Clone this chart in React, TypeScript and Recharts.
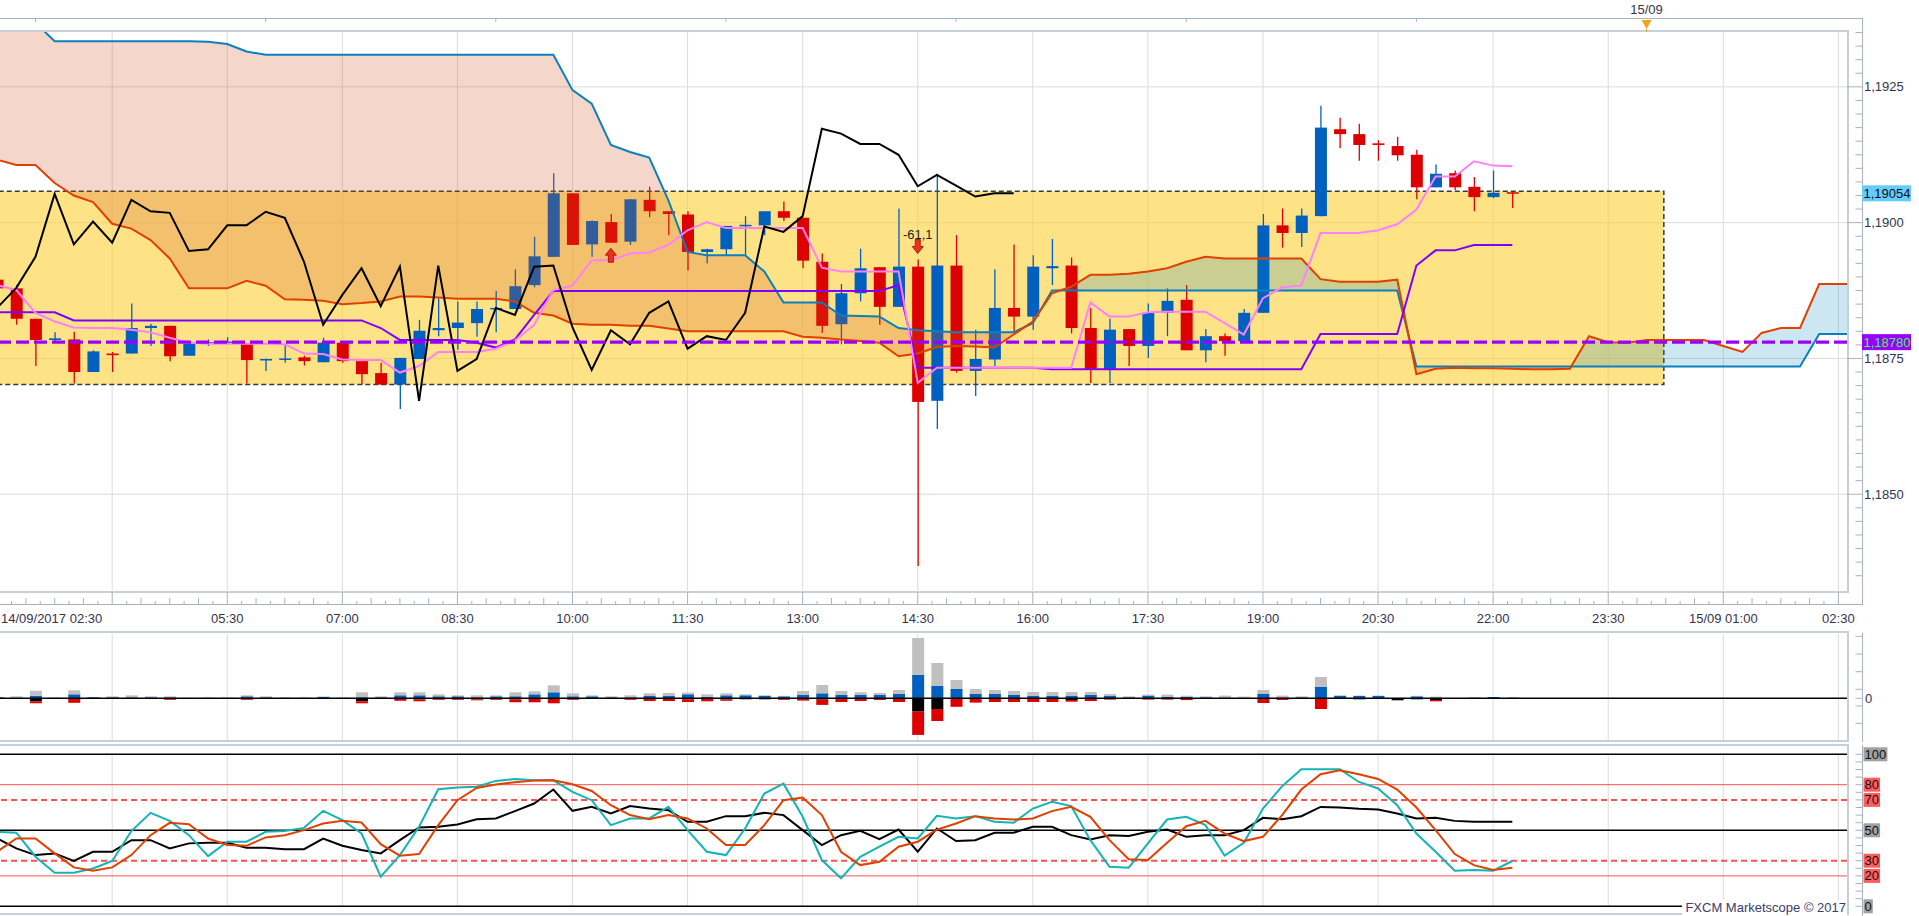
import React from "react";
import {
  ComposedChart,
  Bar,
  Line,
  Area,
  XAxis,
  YAxis,
  ReferenceLine,
  ReferenceArea,
  ReferenceDot,
} from "recharts";

// EUR/USD 15-minute bars, index 0 = 14/09/2017 02:30
const openPrices = [
  1.18895, 1.18879, 1.18823, 1.18784, 1.18785, 1.18725, 1.18759, 1.18759, 1.18806, 1.1881,
  1.18755, 1.18779, 1.1878, 1.18777, 1.18747, 1.18749, 1.18752, 1.18743, 1.18779, 1.18745,
  1.18723, 1.18702, 1.18749, 1.18802, 1.18806, 1.18815, 1.18841, 1.18841, 1.18885, 1.18937,
  1.19054, 1.1896, 1.19001, 1.18965, 1.19042, 1.19021, 1.19015, 1.18946, 1.18951, 1.18994,
  1.18995, 1.19021, 1.19009, 1.18928, 1.18813, 1.1887, 1.18918, 1.18845, 1.18919, 1.18672,
  1.18921, 1.18727, 1.18748, 1.18843, 1.18827, 1.18916, 1.18921, 1.18806, 1.18729, 1.18804,
  1.18773, 1.18834, 1.18858, 1.18765, 1.18791, 1.18782, 1.18834, 1.18995, 1.18981, 1.19012,
  1.19172, 1.19163, 1.19146, 1.19141, 1.19125, 1.19065, 1.19091, 1.19066, 1.19047, 1.19056,
];
const highPrices = [
  1.18905, 1.18885, 1.18823, 1.18798, 1.18799, 1.18765, 1.18762, 1.18851, 1.18814, 1.1881,
  1.18782, 1.18785, 1.18789, 1.18777, 1.1875, 1.18776, 1.18755, 1.18788, 1.18782, 1.18745,
  1.18742, 1.18751, 1.18821, 1.18861, 1.18855, 1.18855, 1.18874, 1.18914, 1.18974, 1.19091,
  1.19054, 1.19004, 1.19016, 1.19043, 1.19066, 1.19021, 1.19021, 1.18952, 1.18994, 1.19012,
  1.19021, 1.19039, 1.19009, 1.18943, 1.18887, 1.18952, 1.18918, 1.19026, 1.18932, 1.1909,
  1.18977, 1.18803, 1.18914, 1.1896, 1.1894, 1.1897, 1.18936, 1.18843, 1.18823, 1.18804,
  1.18851, 1.18879, 1.18885, 1.18804, 1.18796, 1.18841, 1.19016, 1.19026, 1.19026, 1.19215,
  1.19193, 1.19182, 1.19152, 1.19158, 1.19134, 1.19107, 1.19096, 1.19084, 1.19096, 1.19056,
];
const lowPrices = [
  1.1887, 1.18812, 1.18736, 1.18779, 1.18704, 1.18725, 1.18725, 1.18759, 1.18773, 1.18745,
  1.18755, 1.18773, 1.18776, 1.18704, 1.18727, 1.18742, 1.18737, 1.18743, 1.18742, 1.18702,
  1.18702, 1.18657, 1.18749, 1.18791, 1.18766, 1.1879, 1.18798, 1.18841, 1.18881, 1.18937,
  1.18959, 1.18937, 1.18963, 1.18959, 1.1901, 1.18977, 1.18912, 1.18925, 1.1894, 1.1894,
  1.18977, 1.19003, 1.18916, 1.18797, 1.18776, 1.18855, 1.18812, 1.18845, 1.18368, 1.1862,
  1.18724, 1.18681, 1.18736, 1.188, 1.18803, 1.18885, 1.18796, 1.18705, 1.18705, 1.18736,
  1.18751, 1.18791, 1.18765, 1.18743, 1.18755, 1.18782, 1.18834, 1.18954, 1.18955, 1.19012,
  1.19137, 1.19114, 1.19114, 1.19114, 1.19043, 1.19065, 1.1906, 1.19021, 1.19045, 1.19027,
];
const closePrices = [
  1.18879, 1.18823, 1.18784, 1.18787, 1.18725, 1.18763, 1.18756, 1.18806, 1.1881, 1.18754,
  1.18777, 1.1878, 1.18781, 1.18747, 1.18749, 1.1875, 1.18745, 1.18779, 1.18745, 1.18721,
  1.18702, 1.18751, 1.18801, 1.18806, 1.18816, 1.18841, 1.18843, 1.18883, 1.18938, 1.19054,
  1.18959, 1.19003, 1.18963, 1.19043, 1.19021, 1.19016, 1.18946, 1.18951, 1.18994, 1.18996,
  1.19021, 1.19009, 1.1893, 1.1881, 1.1887, 1.18916, 1.18845, 1.18919, 1.1867, 1.18921,
  1.18727, 1.18749, 1.18843, 1.18827, 1.18919, 1.1892, 1.18806, 1.18729, 1.18803, 1.18773,
  1.18834, 1.18856, 1.18765, 1.18791, 1.18782, 1.18834, 1.18995, 1.18981, 1.19013, 1.19175,
  1.19163, 1.19143, 1.19143, 1.19124, 1.19065, 1.1909, 1.19065, 1.19047, 1.19055, 1.19054,
];

// Ichimoku (spans already shifted 26 bars ahead)
const senkouA = [
  1.19116, 1.19106, 1.19106, 1.19073, 1.1905, 1.19038, 1.18998, 1.18989, 1.18968, 1.18934,
  1.18879, 1.18879, 1.18879, 1.18893, 1.18884, 1.18859, 1.18858, 1.18856, 1.1885, 1.18852,
  1.18855, 1.18864, 1.18864, 1.18862, 1.1886, 1.1886, 1.1886, 1.18855, 1.18834, 1.18829,
  1.18814, 1.18812, 1.18812, 1.1881, 1.1881, 1.18805, 1.188, 1.188, 1.188, 1.188,
  1.188, 1.188, 1.1879, 1.18788, 1.18785, 1.18782, 1.18779, 1.18754, 1.18759, 1.18771,
  1.18773, 1.18772, 1.1877, 1.18794, 1.18818, 1.1887, 1.18882, 1.18904, 1.18904, 1.18906,
  1.1891, 1.18916, 1.18928, 1.18937, 1.18934, 1.18934, 1.18934, 1.18934, 1.18934, 1.18896,
  1.18891, 1.18891, 1.18891, 1.18895, 1.18721, 1.18731, 1.18733, 1.18732, 1.18732, 1.18731,
  1.1873, 1.1873, 1.18731, 1.18791, 1.1878, 1.18779, 1.18784, 1.18784, 1.18784, 1.18784,
  1.18773, 1.18762, 1.18797, 1.18806, 1.18806, 1.18887, 1.18887, 1.18887,
];
const senkouB = [
  1.1939, 1.1938, 1.19368, 1.19334, 1.19334, 1.19334, 1.19334, 1.19334, 1.19334, 1.19334,
  1.19334, 1.19333, 1.19329, 1.19315, 1.19309, 1.19309, 1.19309, 1.19309, 1.19309, 1.19309,
  1.19309, 1.19309, 1.19309, 1.19309, 1.19309, 1.19309, 1.19309, 1.19309, 1.19309, 1.19309,
  1.19244, 1.19219, 1.19143, 1.1913, 1.1912, 1.19041, 1.18946, 1.1894, 1.1894, 1.1894,
  1.1891, 1.18853, 1.18853, 1.18853, 1.18829, 1.18828, 1.18827, 1.18806, 1.18802, 1.188,
  1.18798, 1.18798, 1.18798, 1.18798, 1.18815, 1.18875, 1.18875, 1.18875, 1.18875, 1.18875,
  1.18875, 1.18875, 1.18875, 1.18875, 1.18875, 1.18875, 1.18875, 1.18875, 1.18875, 1.18875,
  1.18875, 1.18875, 1.18875, 1.18875, 1.18735, 1.18735, 1.18735, 1.18735, 1.18735, 1.18735,
  1.18735, 1.18735, 1.18735, 1.18735, 1.18735, 1.18735, 1.18735, 1.18735, 1.18735, 1.18735,
  1.18735, 1.18735, 1.18735, 1.18735, 1.18735, 1.18795, 1.18795, 1.18795,
];
const tenkan = [
  1.18885, 1.18876, 1.18834, 1.18818, 1.18807, 1.18806, 1.18806, 1.18803, 1.18798, 1.18788,
  1.18779, 1.18777, 1.18777, 1.18777, 1.18777, 1.18776, 1.18759, 1.18758, 1.18748, 1.18747,
  1.18747, 1.18724, 1.18736, 1.18762, 1.18762, 1.18762, 1.18768, 1.18783, 1.18812, 1.18876,
  1.18884, 1.18931, 1.18931, 1.18943, 1.18945, 1.18959, 1.18986, 1.19001, 1.1899, 1.1899,
  1.1899, 1.1899, 1.1899, 1.18917, 1.1891, 1.1891, 1.1891, 1.1891, 1.18705, 1.18733,
  1.18733, 1.18733, 1.18733, 1.18733, 1.18733, 1.18733, 1.18733, 1.18853, 1.18827, 1.18827,
  1.18835, 1.18836, 1.18836, 1.18836, 1.18815, 1.18794, 1.18861, 1.18881, 1.18884, 1.18981,
  1.18981, 1.18981, 1.18986, 1.18997, 1.19024, 1.19085, 1.19085, 1.19113, 1.19105, 1.19104,
];
const kijun = [
  1.18835, 1.18835, 1.18835, 1.18835, 1.1882, 1.1882, 1.1882, 1.1882, 1.1882, 1.1882,
  1.1882, 1.1882, 1.1882, 1.1882, 1.1882, 1.1882, 1.1882, 1.1882, 1.1882, 1.1882,
  1.18806, 1.18784, 1.18784, 1.18784, 1.18784, 1.18779, 1.1877, 1.18785, 1.1883, 1.18874,
  1.18874, 1.18874, 1.18874, 1.18874, 1.18874, 1.18874, 1.18874, 1.18874, 1.18874, 1.18874,
  1.18874, 1.18874, 1.18874, 1.18874, 1.18874, 1.18874, 1.18874, 1.18885, 1.18733, 1.18733,
  1.18733, 1.18733, 1.18733, 1.18733, 1.18733, 1.1873, 1.1873, 1.1873, 1.1873, 1.1873,
  1.1873, 1.1873, 1.1873, 1.1873, 1.1873, 1.1873, 1.1873, 1.1873, 1.1873, 1.18795,
  1.18795, 1.18795, 1.18795, 1.18795, 1.18921, 1.18949, 1.18949, 1.18959, 1.18959, 1.18959,
];
const chikou = [
  1.18843, 1.1888, 1.18937, 1.19053, 1.1896, 1.19002, 1.18963, 1.19042, 1.19021, 1.19018,
  1.18948, 1.18951, 1.18995, 1.18995, 1.1902, 1.19009, 1.18928, 1.18812, 1.18867, 1.18916,
  1.18846, 1.18919, 1.18672, 1.18921, 1.18727, 1.18749, 1.18843, 1.1883, 1.18919, 1.18921,
  1.18807, 1.18729, 1.18802, 1.18776, 1.18834, 1.18855, 1.18768, 1.18791, 1.18784, 1.18834,
  1.18993, 1.18983, 1.19012, 1.19173, 1.19164, 1.19145, 1.19145, 1.19125, 1.19067, 1.19088,
  1.19068, 1.19048, 1.19054, 1.19054,
];

// volume panel (up side: blue + grey, down side: black + red)
const volBuy = [
  1, 0.5, 2.5, 0, 4, 1, 1, 1, 1, 1, 0, 0, 0, 2, 1, 0, 0, 1.5, 0, 1,
  1, 3, 3, 2, 2, 1, 2, 2, 4, 6, 2, 2, 1, 1, 2.3, 2.3, 4, 1.5, 3, 3,
  2.5, 2, 3.3, 5, 3.3, 3.3, 3.3, 4.3, 23.3, 12.3, 9.3, 4.3, 4.3, 3.3, 2.3, 2.3, 2.3, 3.3, 2.3, 1,
  2.7, 1.7, 1.3, 1, 0, 0, 4.3, 1, 1, 11.3, 2.5, 2.3, 2.3, 0, 2, 0, 0, 0, 1.3, 0,
];
const volTick = [
  0, 1.5, 5, 1, 4, 0, 1, 2, 1, 1, 0.5, 1, 1, 1, 1, 1, 1, 0, 1, 5,
  1, 3, 3, 2, 1, 2, 1, 4, 3, 7, 3, 1, 1, 2, 2.7, 3, 1.7, 2.5, 2, 1,
  0.5, 0.5, 4, 8.3, 4, 2.7, 2, 4, 37, 23, 9, 5, 4, 4, 4, 4, 4, 3, 2, 1,
  1, 2, 1.3, 1, 2.7, 1.7, 4, 1.7, 1, 10, 0.5, 0.5, 0.5, 0.5, 0.5, 1.7, 0, 1.3, 0, 1.3,
];
const volSell = [
  0, 0, -3, 0, 0, 0, 0, -0.5, 0, -0.5, 0, 0, 0, 0, 0, 0, 0, 0, 0, -3,
  0, 0, -1, 0, 0, -1, 0, -1, 0, 0, 0, 0, 0, -0.5, 0, 0, -1, -0.5, -1, -1,
  -1, 0, 0, -1.3, 0, 0, 0, 0, -13.3, -10.7, -0.5, 0, 0, 0, 0, 0, -1.7, 0, 0, -0.7,
  0, 0, -0.5, 0, 0, 0, 0, -0.7, 0, 0, 0, -1, -0.7, -2, -1, -1.7, 0, 0, 0, 0,
];
const volSellExtra = [
  0, 0, -2, 0, -4.5, 0, 0, 0, 0, -1, 0, 0, 0, -1.5, 0, 0, 0, 0, 0, -2,
  0, -2.5, -2, -1.5, -1.5, -1, -1.5, -3, -4, -5, -1.5, 0, 0, -1, -2.7, -2.7, -2.7, -2.5, -1.5, 0,
  0, -1.5, -2.3, -5.3, -3.7, -2.7, -1.7, -3.7, -23.3, -12, -8, -4.3, -3.7, -3.7, -3.7, -3.7, -1.7, -2.7, -1.3, 0,
  -1.3, -1.3, -1.3, 0, 0, 0, -4.7, -1, 0, -10.7, 0, 0, 0, 0, 0, -1.3, 0, 0, 0, 0,
];

// oscillator panel
const stochK = [
  49, 48.4, 32.6, 22.1, 22.1, 24.9, 29.8, 49.5, 61.5, 56.2,
  46.8, 33, 42.5, 42.5, 49, 49.5, 51.6, 62.8, 56.7, 47.9,
  19.5, 33.7, 52.3, 77, 78.1, 78.6, 82.5, 83.8, 82.9, 82.9,
  75.3, 69.8, 53.4, 57.8, 57.8, 65.4, 50.1, 35.9, 33.7, 51.2,
  74.2, 80.7, 58.9, 30.4, 18.4, 32.6, 39.2, 45.7, 44.6, 59.5,
  57.8, 59.3, 55.6, 54.9, 64.3, 68.7, 65.9, 43.5, 26, 25.4,
  41.4, 57.1, 58.9, 53.4, 33.3, 41.8, 64.3, 79, 90.2, 90.2,
  90.2, 81.8, 77.5, 66.5, 47.9, 35.9, 23.4, 23.9, 23.4, 29.8,
];
const stochD = [
  35.9, 44.6, 44.6, 34.8, 25.6, 23.4, 25.6, 33.7, 46.8, 54.9,
  54, 44.6, 40.3, 39.8, 45.3, 46.8, 50.1, 54.5, 56.2, 55.1,
  40.9, 33.3, 34.4, 53.4, 69.8, 77.9, 80.1, 81.6, 82.7, 82.9,
  80.3, 75.9, 66.5, 60, 57.3, 60, 57.8, 51.2, 40.3, 40.3,
  53.4, 69.8, 71.6, 60, 35.9, 27.1, 29.3, 39.2, 42.5, 50.5,
  54.5, 59.3, 57.8, 57.1, 57.8, 62.6, 65.4, 58.9, 43.5, 30.9,
  30.4, 41.8, 52.7, 56.2, 47.9, 42.9, 45.7, 60, 76.8, 86.9,
  89.5, 86.9, 83.8, 76.8, 65, 50.1, 34.4, 27.1, 23.9, 25.4,
];
const rsi = [
  44.6, 38.1, 33.7, 34.8, 29.8, 35.9, 35.9, 43.5, 43.5, 38.1,
  41.4, 41.8, 41.8, 38.5, 38.5, 37.6, 37.6, 44.6, 39.8, 37,
  34.8, 43.5, 51.9, 52.3, 53.8, 57.3, 57.8, 62.6, 67.6, 76.8,
  62.8, 65.4, 61.1, 65.9, 64.3, 63.2, 55.6, 55.6, 59.3, 59.3,
  61.5, 60, 50.1, 40.3, 46.8, 49.7, 44.2, 50.5, 35.9, 51.2,
  42.9, 43.5, 48.4, 48.4, 52.3, 52.3, 46.8, 44, 46.8, 46.2,
  49, 50.5, 45.7, 46.8, 46.8, 50.1, 58.2, 57.3, 59.3, 65.4,
  65, 64.1, 63.7, 61.1, 57.8, 58.2, 56.2, 55.6, 55.6, 55.6,
];

// axes
const timeLabels = [
  "14/09/2017 02:30", "", "05:30", "07:00", "08:30", "10:00", "11:30", "13:00", "14:30",
  "16:00", "17:30", "19:00", "20:30", "22:00", "23:30", "15/09 01:00", "02:30",
];
const gridBars = [6, 12, 18, 24, 30, 36, 42, 48, 54, 60, 66, 72, 78, 84, 90, 96];
const topTicks = [2, 14, 26, 38, 50, 62, 74, 86];
const topLabels = ["", "", "", "", "", "", "", "15/09"];
const priceTickValues = [1.185, 1.1875, 1.19, 1.1925];
const priceTickLabels = ["1,1850", "1,1875", "1,1900", "1,1925"];
const volTicks = [-25, -7.7, 0, 9, 26.6, 44.3, 62];
const oscLevels = [0, 20, 30, 50, 70, 80, 100];
const oscLevelLabels = ["0", "20", "30", "50", "70", "80", "100"];

const signals = [
  { n: 32, p: 1.1894, dir: "up", text: "" },
  { n: 48, p: 1.18956, dir: "down", text: "-61,1" },
];
const currentPrice = 1.19054;
const linePrice = 1.1878;
const box = { from: -2, to: 86.9, low: 1.18702, high: 1.19058 };

const X_DOMAIN = [0.15, 96.45];
const PRICE_DOMAIN = [1.1832, 1.19351];

const RED = "#dd0000";
const BLUE = "#0060c0";
const GRID = "#dcdcdc";
const AXIS = "#a9b1c1";
const TXT = "#34344e";
const FONT = "'Liberation Sans', Arial, sans-serif";

const priceData = senkouA.map((sa, n) => ({
  n,
  sa,
  sb: senkouB[n],
  o: openPrices[n],
  h: highPrices[n],
  l: lowPrices[n],
  c: closePrices[n],
  tk: tenkan[n],
  kj: kijun[n],
  ck: chikou[n],
}));

const volData = volBuy.map((b, n) => ({
  n,
  b,
  g: volTick[n],
  k: volSell[n],
  r: volSellExtra[n],
}));

const oscData = stochK.map((k, n) => ({ n, k, d: stochD[n], rsi: rsi[n] }));

const timeTicks = Array.from({ length: 129 }, (_, i) => i * 0.75);
const priceTicks = Array.from({ length: 41 }, (_, i) => +(1.1835 + i * 0.00025).toFixed(5));
const oscTicks = Array.from({ length: 21 }, (_, i) => i * 5);

function Candle(props: any) {
  const { x, y, width, height, payload } = props;
  if (payload == null || payload.h == null) return null;
  const top = Math.min(y, y + height);
  const span = Math.abs(height);
  const range = payload.h - payload.l;
  const py = (v: number) => (range > 0 ? top + ((payload.h - v) / range) * span : top);
  const color = payload.c >= payload.o ? BLUE : RED;
  const cx = x + width / 2;
  const bTop = py(Math.max(payload.o, payload.c));
  const bBot = py(Math.min(payload.o, payload.c));
  return (
    <g>
      <line x1={cx} x2={cx} y1={top} y2={top + span} stroke={color} strokeWidth={1.3} />
      <rect x={x} y={bTop} width={width} height={Math.max(bBot - bTop, 1.5)} fill={color} />
    </g>
  );
}

function TimeTick({ x, y, payload }: any) {
  const k = Math.round(payload.value / 0.75);
  const major = k % 8 === 0;
  const len = major ? 12 : k % 2 === 0 ? 6 : 3;
  const base = y + 12;
  const label = major ? timeLabels[k / 8] : "";
  return (
    <g>
      <line x1={x} x2={x} y1={base - len} y2={base} stroke={AXIS} />
      {label ? (
        <text
          x={k === 0 ? 1 : x}
          y={y + 31}
          textAnchor={k === 0 ? "start" : "middle"}
          fontSize={13}
          fontFamily={FONT}
          fill={TXT}
        >
          {label}
        </text>
      ) : null}
    </g>
  );
}

function TopTick({ x, y, payload }: any) {
  const label = topLabels[topTicks.indexOf(payload.value)];
  if (label) {
    return (
      <g>
        <text x={x} y={y - 18.5} textAnchor="middle" fontSize={13} fontFamily={FONT} fill={TXT}>
          {label}
        </text>
        <polygon points={`${x - 5},${y - 12} ${x + 5},${y - 12} ${x},${y - 3}`} fill="#f5a21c" />
        <line x1={x} x2={x} y1={y - 3} y2={y} stroke="#f5a21c" />
      </g>
    );
  }
  return <line x1={x} x2={x} y1={y - 13.5} y2={y - 10} stroke={AXIS} />;
}

function PriceTick({ x, y, payload }: any) {
  const idx = priceTickValues.findIndex((m) => Math.abs(m - payload.value) < 1e-7);
  const major = idx >= 0;
  return (
    <g>
      <line x1={major ? x : x + 8.5} x2={x + 15} y1={y} y2={y} stroke={AXIS} />
      {major ? (
        <text x={x + 17} y={y + 4.5} fontSize={13} fontFamily={FONT} fill={TXT}>
          {priceTickLabels[idx]}
        </text>
      ) : null}
    </g>
  );
}

function VolTick({ x, y, payload }: any) {
  return (
    <g>
      <line x1={x + 8.5} x2={x + 15} y1={y} y2={y} stroke={AXIS} />
      {payload.value === 0 ? (
        <text x={x + 18} y={y + 4.5} fontSize={13} fontFamily={FONT} fill={TXT}>
          0
        </text>
      ) : null}
    </g>
  );
}

function OscTick({ x, y, payload }: any) {
  const idx = oscLevels.indexOf(payload.value);
  const label = idx >= 0 ? oscLevelLabels[idx] : "";
  const red = [20, 30, 70, 80].includes(payload.value);
  return (
    <g>
      <line x1={x + 8.5} x2={x + 15} y1={y} y2={y} stroke={AXIS} />
      {label ? (
        <g>
          <rect x={x + 16.5} y={y - 7} width={label.length * 7.3 + 2} height={14} fill={red ? "#ff5c5c" : "#a0a0a0"} />
          <text x={x + 17.5} y={y + 4.5} fontSize={13} fontFamily={FONT} fill="#111">
            {label}
          </text>
        </g>
      ) : null}
    </g>
  );
}

function PriceTag({ viewBox, text, bg, color }: any) {
  if (!viewBox) return null;
  const left = viewBox.x + viewBox.width + 15;
  return (
    <g>
      <rect x={left} y={viewBox.y - 8} width={49} height={16} fill={bg} />
      <text x={left + 1.5} y={viewBox.y + 4.5} fontSize={13} fontFamily={FONT} fill={color}>
        {text}
      </text>
    </g>
  );
}

function SignalArrow({ cx, cy, dir, text }: any) {
  const s = dir === "up" ? -1 : 1;
  const tip = cy + s * 7;
  const base = cy;
  const tail = cy - s * 7;
  const pts = `${cx - 2.5},${tail} ${cx + 2.5},${tail} ${cx + 2.5},${base} ${cx + 5.5},${base} ${cx},${tip} ${cx - 5.5},${base} ${cx - 2.5},${base}`;
  return (
    <g>
      <polygon points={pts} fill="#e8341e" stroke="#a80000" strokeWidth={0.8} />
      {text ? (
        <text x={cx} y={cy - 8} textAnchor="middle" fontSize={13} fontFamily={FONT} fill="#222">
          {text}
        </text>
      ) : null}
    </g>
  );
}

const frame = (top: number, height: number): React.CSSProperties => ({
  position: "absolute",
  left: 0,
  top,
  width: 1847,
  height,
  borderTop: "2px solid #c8cfd9",
  borderRight: "2px solid #c8cfd9",
  borderBottom: "2px solid #c8cfd9",
});

const rule = (left: number, top: number, width: number, height: number): React.CSSProperties => ({
  position: "absolute",
  left,
  top,
  width,
  height,
  background: AXIS,
});

export default function App() {
  return (
    <div
      style={{
        position: "absolute",
        left: 0,
        top: 0,
        width: 1919,
        height: 916,
        background: "#fff",
        overflow: "hidden",
        fontFamily: FONT,
      }}
    >
      {/* panel frames */}
      <div style={rule(0, 18, 1863, 1)} />
      <div style={rule(1862, 18, 1, 587)} />
      <div style={rule(0, 604, 1863, 1)} />
      <div style={frame(30, 559)} />
      <div style={frame(631, 107)} />
      <div style={rule(1862, 633, 1, 109)} />
      <div style={frame(744, 167)} />
      <div style={rule(1862, 745, 1, 171)} />

      {/* price panel */}
      <div style={{ position: "absolute", left: 0, top: 0 }}>
        <ComposedChart width={1919} height={632} data={priceData} margin={{ top: 0, right: 0, bottom: 0, left: 0 }}>
          <XAxis
            xAxisId="top"
            orientation="top"
            dataKey="n"
            type="number"
            domain={X_DOMAIN}
            allowDataOverflow
            height={32}
            ticks={topTicks}
            interval={0}
            tick={(p: any) => <TopTick {...p} />}
            tickSize={0}
            tickMargin={0}
            axisLine={false}
            tickLine={false}
          />
          <XAxis
            dataKey="n"
            type="number"
            domain={X_DOMAIN}
            allowDataOverflow
            height={40}
            ticks={timeTicks}
            interval={0}
            tick={(p: any) => <TimeTick {...p} />}
            tickSize={0}
            tickMargin={0}
            axisLine={false}
            tickLine={false}
          />
          <YAxis
            orientation="right"
            width={72}
            type="number"
            domain={PRICE_DOMAIN}
            allowDataOverflow
            ticks={priceTicks}
            interval={0}
            tick={(p: any) => <PriceTick {...p} />}
            tickSize={0}
            tickMargin={0}
            axisLine={false}
            tickLine={false}
          />

          {gridBars.map((g) => (
            <ReferenceLine key={`gx${g}`} x={g} stroke={GRID} zIndex={10} />
          ))}
          {priceTickValues.map((v) => (
            <ReferenceLine key={`gy${v}`} y={v} stroke={GRID} zIndex={10} />
          ))}

          <ReferenceArea
            x1={box.from}
            x2={box.to}
            y1={box.low}
            y2={box.high}
            ifOverflow="hidden"
            fill="#fcd23c"
            fillOpacity={0.62}
            stroke="#3a3a3a"
            strokeWidth={1.5}
            strokeDasharray="5 3"
            zIndex={20}
          />

          <Bar
            dataKey={(d: any) => (d.h === undefined ? undefined : [d.l, d.h])}
            barSize={12}
            shape={(p: any) => <Candle {...p} />}
            isAnimationActive={false}
            zIndex={30}
          />

          <Area
            type="linear"
            dataKey={(d: any) => [d.sa, Math.max(d.sa, d.sb)]}
            fill="#d4501c"
            fillOpacity={0.234}
            stroke="none"
            isAnimationActive={false}
            zIndex={40}
          />
          <Area
            type="linear"
            dataKey={(d: any) => [d.sb, Math.max(d.sa, d.sb)]}
            fill="#0080c0"
            fillOpacity={0.2}
            stroke="none"
            isAnimationActive={false}
            zIndex={40}
          />

          <Line type="linear" dataKey="sb" stroke="#0a80c0" strokeWidth={2} dot={false} isAnimationActive={false} zIndex={50} />
          <Line type="linear" dataKey="sa" stroke="#e04000" strokeWidth={2} dot={false} isAnimationActive={false} zIndex={50} />
          <Line type="linear" dataKey="kj" stroke="#8000ff" strokeWidth={2} dot={false} isAnimationActive={false} zIndex={55} />
          <Line type="linear" dataKey="tk" stroke="#ff80ff" strokeWidth={2} dot={false} isAnimationActive={false} zIndex={55} />
          <Line type="linear" dataKey="ck" stroke="#000" strokeWidth={2} dot={false} isAnimationActive={false} zIndex={60} />

          <ReferenceLine
            y={linePrice}
            stroke="#9900ff"
            strokeWidth={3.3}
            strokeDasharray="13 5"
            zIndex={70}
            label={(p: any) => <PriceTag viewBox={p.viewBox} text="1,18780" bg="#9900ff" color="#3cff3c" />}
          />
          <ReferenceLine
            y={currentPrice}
            stroke="none"
            strokeOpacity={0}
            zIndex={70}
            label={(p: any) => <PriceTag viewBox={p.viewBox} text="1,19054" bg="#66ccff" color="#111" />}
          />

          {signals.map((s) => (
            <ReferenceDot
              key={`sig${s.n}`}
              x={s.n}
              y={s.p}
              r={0}
              zIndex={80}
              shape={(p: any) => <SignalArrow cx={p.cx} cy={p.cy} dir={s.dir} text={s.text} />}
            />
          ))}
        </ComposedChart>
      </div>

      {/* volume panel */}
      <div style={{ position: "absolute", left: 0, top: 632 }}>
        <ComposedChart
          width={1919}
          height={110}
          data={volData}
          stackOffset="sign"
          margin={{ top: 2, right: 0, bottom: 2, left: 0 }}
        >
          <XAxis dataKey="n" type="number" domain={X_DOMAIN} allowDataOverflow hide />
          <YAxis
            orientation="right"
            width={72}
            type="number"
            domain={[-41.7, 64.3]}
            allowDataOverflow
            ticks={volTicks}
            interval={0}
            tick={(p: any) => <VolTick {...p} />}
            tickSize={0}
            tickMargin={0}
            axisLine={false}
            tickLine={false}
          />
          {gridBars.map((g) => (
            <ReferenceLine key={`vx${g}`} x={g} stroke={GRID} zIndex={10} />
          ))}
          <Bar dataKey="b" stackId="v" fill={BLUE} barSize={12} isAnimationActive={false} zIndex={30} />
          <Bar dataKey="k" stackId="v" fill="#000" barSize={12} isAnimationActive={false} zIndex={30} />
          <Bar dataKey="g" stackId="v" fill="#c0c0c0" barSize={12} isAnimationActive={false} zIndex={30} />
          <Bar dataKey="r" stackId="v" fill={RED} barSize={12} isAnimationActive={false} zIndex={30} />
          <ReferenceLine y={0} stroke="#000" strokeWidth={1.5} zIndex={60} />
        </ComposedChart>
      </div>

      {/* oscillator panel */}
      <div style={{ position: "absolute", left: 0, top: 745 }}>
        <ComposedChart width={1919} height={171} data={oscData} margin={{ top: 9.3, right: 0, bottom: 9.7, left: 0 }}>
          <XAxis dataKey="n" type="number" domain={X_DOMAIN} allowDataOverflow hide />
          <YAxis
            orientation="right"
            width={72}
            type="number"
            domain={[0, 100]}
            ticks={oscTicks}
            interval={0}
            tick={(p: any) => <OscTick {...p} />}
            tickSize={0}
            tickMargin={0}
            axisLine={false}
            tickLine={false}
          />
          {gridBars.map((g) => (
            <ReferenceLine key={`ox${g}`} x={g} stroke={GRID} zIndex={10} />
          ))}
          <ReferenceLine y={100} stroke="#000" strokeWidth={1.5} zIndex={20} />
          <ReferenceLine y={50} stroke="#000" strokeWidth={1.5} zIndex={20} />
          <ReferenceLine y={0} stroke="#000" strokeWidth={1.5} zIndex={20} />
          <ReferenceLine y={80} stroke="#ff5050" strokeWidth={1} zIndex={20} />
          <ReferenceLine y={20} stroke="#ff5050" strokeWidth={1} zIndex={20} />
          <ReferenceLine y={70} stroke="#ff5050" strokeWidth={2} strokeDasharray="6 4" zIndex={20} />
          <ReferenceLine y={30} stroke="#ff5050" strokeWidth={2} strokeDasharray="6 4" zIndex={20} />
          <Line type="linear" dataKey="rsi" stroke="#000" strokeWidth={2} dot={false} isAnimationActive={false} zIndex={50} />
          <Line type="linear" dataKey="k" stroke="#14b4b4" strokeWidth={2} dot={false} isAnimationActive={false} zIndex={50} />
          <Line type="linear" dataKey="d" stroke="#e04000" strokeWidth={2} dot={false} isAnimationActive={false} zIndex={50} />
        </ComposedChart>
      </div>

      <div
        style={{
          position: "absolute",
          right: 72,
          top: 900,
          background: "#fff",
          color: "#3c3c6a",
          fontSize: 13,
          lineHeight: "15px",
          padding: "0 1px 0 3px",
        }}
      >
        FXCM Marketscope © 2017
      </div>
    </div>
  );
}
